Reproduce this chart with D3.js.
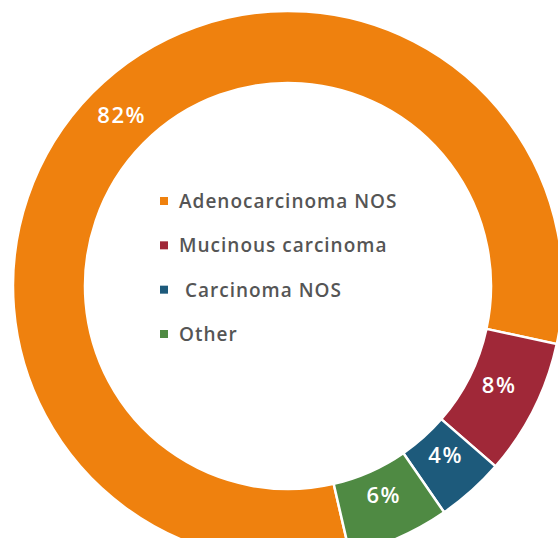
<!DOCTYPE html>
<html>
<head>
<meta charset="utf-8">
<script src="https://cdn.jsdelivr.net/npm/d3@7/dist/d3.min.js"></script>
<style>
  html, body { margin: 0; padding: 0; background: #fff; }
  svg { display: block; }
</style>
</head>
<body>
<svg id="chart" width="558" height="538"></svg>
<script>
const categories = ["Adenocarcinoma NOS", "Mucinous carcinoma", "Carcinoma NOS", "Other"];
const values = [82, 8, 4, 6];
const labels = ["82%", "8%", "4%", "6%"];
const legendLabels = ["Adenocarcinoma NOS", "Mucinous carcinoma", " Carcinoma NOS", "Other"];
const colors = ["#EF810E", "#A02838", "#1D5A7B", "#4F8A43"];

const svg = d3.select("#chart");
const cx = 288, cy = 286, outerR = 275, innerR = 203;
const g = svg.append("g").attr("transform", `translate(${cx},${cy})`);

const startA = 167 * Math.PI / 180;
const pie = d3.pie().sort(null).value(d => d)
  .startAngle(startA).endAngle(startA + 2 * Math.PI);
const arcs = pie(values);

const arc = d3.arc().innerRadius(innerR).outerRadius(outerR);
const labelArc = d3.arc().innerRadius(235).outerRadius(235);

const color = d3.scaleOrdinal().domain(categories).range(colors);

g.selectAll("path.slice").data(arcs).enter().append("path")
  .attr("class", "slice")
  .attr("d", arc)
  .attr("fill", (d, i) => color(categories[i]))
  .attr("stroke", "#fff")
  .attr("stroke-width", 2.5);

g.selectAll("text.pct").data(arcs).enter().append("text")
  .attr("class", "pct")
  .attr("transform", d => {
    const c = labelArc.centroid(d);
    return `translate(${c[0] + 1},${c[1] - 7})`;
  })
  .attr("text-anchor", "middle")
  .attr("dominant-baseline", "central")
  .attr("fill", "#fff")
  .style("font-family", "'Open Sans', sans-serif")
  .style("font-weight", "600")
  .style("font-size", "22px")
  .style("letter-spacing", "1.5px")
  .text((d, i) => labels[i]);

// Legend
const legendY = d3.scalePoint().domain(categories).range([201, 334]);
const leg = svg.append("g");
const items = leg.selectAll("g.item").data(categories).enter().append("g")
  .attr("class", "item")
  .attr("transform", d => `translate(160,${legendY(d)})`);
items.append("rect")
  .attr("x", 0).attr("y", -4).attr("width", 8).attr("height", 8)
  .attr("fill", d => color(d));
items.append("text")
  .attr("x", 19).attr("y", 0)
  .attr("dominant-baseline", "central")
  .attr("fill", "#555")
  .style("font-family", "'Open Sans', sans-serif")
  .style("font-weight", "600")
  .style("font-size", "19px")
  .style("letter-spacing", "1px")
  .style("white-space", "pre")
  .attr("xml:space", "preserve")
  .text((d, i) => legendLabels[i]);
</script>
</body>
</html>
